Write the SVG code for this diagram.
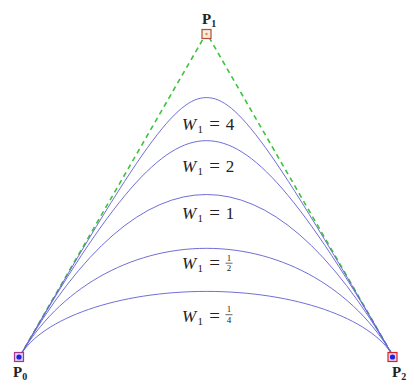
<svg xmlns="http://www.w3.org/2000/svg" width="414" height="387" viewBox="0 0 414 387">
<style>
.curve{fill:none;stroke:#6666d4;stroke-width:0.95}
.dash{fill:none;stroke:#3cc43c;stroke-width:1.6;stroke-dasharray:5,4}
.t{font-family:"Liberation Serif","DejaVu Serif",serif;fill:#222}
.w{font-size:17px;font-style:italic}
.s{font-size:11px}
.eq{font-size:19px}
.n{font-size:17px}
.f{font-size:9px}
.pl{font-family:"Liberation Serif","DejaVu Serif",serif;font-size:15px;font-weight:bold;fill:#222}
.sub{font-size:10px}
</style>
<rect width="414" height="387" fill="#ffffff"/>
<g id="connectors">
<path class="dash" d="M20,356 L206.5,33 L393,356"/>
<path class="curve" d="M20,356 C141.87,144.94 176.03,97.6 206.5,97.6 C236.97,97.6 271.13,144.94 393,356"/>
<path class="curve" d="M20,356 C111.26,197.95 160.87,140.67 206.5,140.67 C252.13,140.67 301.74,197.95 393,356"/>
<path class="curve" d="M20,356 Q206.5,33 393,356"/>
<path class="curve" d="M20,356 C58.47,289.38 129.56,248.33 206.5,248.33 C283.44,248.33 354.53,289.38 393,356"/>
<path class="curve" d="M20,356 C41.96,317.97 118.67,291.4 206.5,291.4 C294.33,291.4 371.04,317.97 393,356"/>
</g>
<g id="P0">
<rect x="14.5" y="352.5" width="9" height="9" fill="#dcd0f4" stroke="#a03a8a" stroke-width="1.2"/>
<circle cx="19" cy="357" r="2.6" fill="#2020e0"/>
<text class="pl" x="13" y="377">P<tspan class="sub" dy="3">0</tspan></text>
</g>
<g id="P1">
<rect x="202" y="29.5" width="9" height="9" fill="#f8ecd8" stroke="#b0503a" stroke-width="1.2"/>
<circle cx="206.5" cy="34" r="1.2" fill="#e09040"/>
<text class="pl" x="202" y="24">P<tspan class="sub" dy="3">1</tspan></text>
</g>
<g id="P2">
<rect x="388" y="352.5" width="9" height="9" fill="#e8d0f0" stroke="#e02020" stroke-width="1.2"/>
<circle cx="392.5" cy="357" r="2.6" fill="#2020e0"/>
<text class="pl" x="392" y="377">P<tspan class="sub" dy="3">2</tspan></text>
</g>
<g id="W4" class="t">
<text class="w" x="182" y="129.5">W</text><text class="s" x="197.5" y="132.5">1</text>
<text class="eq" x="214.5" y="129.5" text-anchor="middle">=</text><text class="n" x="230" y="129.5" text-anchor="middle">4</text>
</g>
<g id="W2" class="t">
<text class="w" x="182" y="171.5">W</text><text class="s" x="197.5" y="174.5">1</text>
<text class="eq" x="214.5" y="171.5" text-anchor="middle">=</text><text class="n" x="230" y="171.5" text-anchor="middle">2</text>
</g>
<g id="W1" class="t">
<text class="w" x="182" y="218.5">W</text><text class="s" x="197.5" y="221.5">1</text>
<text class="eq" x="214.5" y="218.5" text-anchor="middle">=</text><text class="n" x="230" y="218.5" text-anchor="middle">1</text>
</g>
<g id="Whalf" class="t">
<text class="w" x="182" y="268.5">W</text><text class="s" x="197.5" y="271.5">1</text>
<text class="eq" x="214.5" y="268.5" text-anchor="middle">=</text>
<text class="f" x="229" y="260.8" text-anchor="middle">1</text>
<line x1="225.5" y1="263.2" x2="232.5" y2="263.2" stroke="#222" stroke-width="0.7"/>
<text class="f" x="229" y="271.4" text-anchor="middle">2</text>
</g>
<g id="Wquarter" class="t">
<text class="w" x="182" y="321.5">W</text><text class="s" x="197.5" y="324.5">1</text>
<text class="eq" x="214.5" y="321.5" text-anchor="middle">=</text>
<text class="f" x="229" y="312.3" text-anchor="middle">1</text>
<line x1="225.5" y1="314.7" x2="232.5" y2="314.7" stroke="#222" stroke-width="0.7"/>
<text class="f" x="229" y="322.9" text-anchor="middle">4</text>
</g>
</svg>
